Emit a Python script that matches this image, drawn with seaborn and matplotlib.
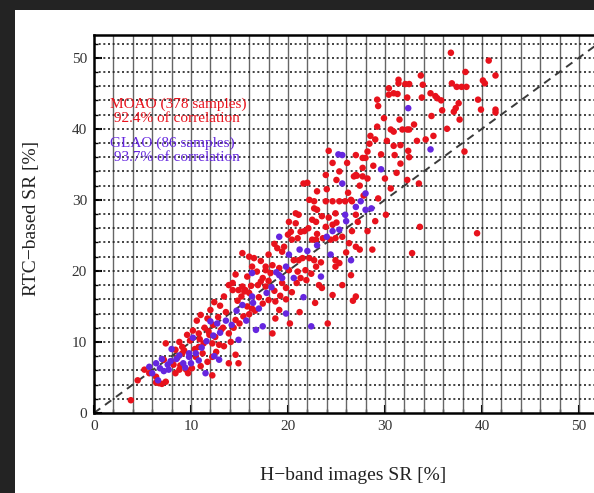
import matplotlib
matplotlib.use("Agg")
import matplotlib.pyplot as plt
from matplotlib.patches import Rectangle
from matplotlib.ticker import MultipleLocator
import numpy as np
import pandas as pd
import seaborn as sns

# MOAO samples: H-band SR vs RTC-based SR [%]
moao_x = [36.8, 40.7, 33.7, 38.3, 41.4, 31.4, 31.4, 32.1, 32.5, 33.9, 36.9, 37.4, 37.9, 38.4,
          40.1, 40.3, 30.4, 30.9, 31.3, 32.3, 33.8, 34.7, 35.2, 35.4, 35.8, 29.2, 29.3, 39.6,
          37.6, 37.3, 37.1, 39.9, 41.4, 41.4, 29.9, 31.5, 37.7, 30.6, 30.9, 31.8, 32.3, 32.5,
          28.5, 34.2, 28.4, 30.9, 31.6, 32.4, 38.2, 32.5, 27.7, 28.0, 27.7, 31.6, 26.8, 27.1,
          32.3, 33.5, 39.5, 32.8,
          27.0, 27.7, 22.0, 23.9, 22.2, 22.7, 23.9, 24.6, 25.3, 25.9, 26.6, 22.7, 23.0, 20.8,
          21.1, 24.9, 30.1, 20.1, 20.8, 22.5, 22.9, 23.9, 24.6, 27.0, 27.2, 20.3, 21.3, 20.4,
          22.5, 22.9, 23.6, 24.4, 24.9, 26.3, 27.0, 28.7, 27.4, 15.3, 16.0, 18.9, 19.4, 20.6,
          21.1, 21.5, 22.2, 22.7, 24.9, 25.3, 24.9, 16.3, 16.8, 17.7, 18.2, 20.1, 21.0, 21.8,
          14.3, 15.3, 15.6, 17.2, 17.7, 19.4, 19.8, 23.2, 23.5, 27.0,
          17.7, 18.4, 19.1, 14.9, 15.5, 16.0, 13.9, 14.3, 15.8, 16.3, 17.4, 18.0, 18.7, 19.1,
          18.7, 14.6, 11.0, 11.7, 13.1, 10.8, 11.9, 12.5, 13.9, 12.2, 12.9, 8.8, 9.1, 10.5,
          11.2, 12.2, 14.6, 7.2, 8.2, 8.8, 9.5, 10.1, 5.2, 5.7, 13.9, 14.9, 12.2,
          3.8, 4.5, 6.4, 6.7, 7.4, 7.4, 8.4, 9.1, 8.4, 10.8, 11.3, 6.4, 7.0,
          21.6, 24.2, 29.2, 30.4, 26.7, 33.6, 24.1,
          8.0, 8.6, 9.3, 9.9, 10.4, 10.9, 11.4, 11.8, 12.3, 12.8, 13.3, 13.6, 10.2, 9.6,
          8.9, 9.7, 11.0, 11.7, 12.6, 13.4, 14.1, 14.4, 15.0, 15.4, 16.0, 16.6, 17.0, 13.0,
          12.0, 10.6,
          14.8, 15.2, 16.2, 16.9, 17.4, 18.0, 18.6, 19.2, 19.8, 20.4, 20.9, 21.3, 21.9, 22.4,
          22.9, 23.4, 17.2, 18.0, 18.6, 19.6, 20.0, 21.0, 21.7, 22.1, 23.0, 23.5, 24.2, 25.0,
          25.6, 26.0, 26.6, 16.5, 15.8, 14.6, 13.4, 12.4,
          23.0, 24.0, 25.0, 26.2, 27.4, 28.2, 28.8, 29.6, 30.2, 29.0, 28.2, 27.0, 26.1, 25.3,
          24.6, 26.5, 27.8, 29.3, 30.6, 31.2, 30.0, 31.0, 33.0, 33.3, 34.8, 35.9, 36.4, 35.0,
          29.0, 28.2, 26.5, 25.6, 24.6, 22.8, 21.2, 20.2, 18.4]
moao_y = [50.7, 49.6, 47.5, 48.0, 47.5, 46.9, 46.4, 46.3, 46.3, 46.2, 46.4, 45.9, 45.9, 45.9,
          46.8, 46.4, 45.7, 45.0, 44.9, 44.4, 44.4, 45.0, 44.6, 44.3, 44.0, 44.1, 43.2, 44.1,
          43.6, 42.9, 42.4, 42.7, 42.7, 42.3, 41.5, 41.3, 41.3, 39.9, 39.6, 39.9, 39.9, 39.9,
          39.0, 38.5, 37.9, 37.6, 37.7, 36.9, 36.8, 36.0, 35.9, 35.9, 34.5, 35.1, 33.3, 33.4,
          32.8, 32.3, 25.3, 22.5,
          33.5, 33.3, 32.4, 33.5, 30.0, 29.8, 29.8, 29.8, 29.8, 29.8, 29.8, 28.8, 28.6, 28.1,
          27.9, 28.1, 27.9, 26.9, 26.7, 27.2, 26.9, 26.2, 26.5, 27.9, 26.9, 25.5, 25.5, 24.4,
          24.4, 24.4, 24.6, 24.4, 24.6, 23.9, 23.4, 23.0, 23.0, 22.5, 22.0, 23.2, 22.7, 21.5,
          21.5, 21.8, 21.8, 21.5, 21.5, 21.1, 20.6, 20.6, 19.9, 20.1, 19.7, 20.1, 19.9, 20.1,
          18.3, 17.8, 17.3, 18.5, 17.8, 18.3, 17.6, 18.0, 17.6, 16.4,
          20.6, 20.8, 20.4, 17.3, 17.1, 16.9, 18.0, 17.3, 15.0, 14.7, 15.4, 15.9, 15.7, 14.5,
          13.3, 13.1, 13.8, 13.3, 11.7, 11.2, 11.0, 10.7, 11.2, 9.8, 9.6, 10.0, 9.3, 7.9,
          8.4, 7.9, 8.2, 7.5, 6.8, 6.1, 6.1, 6.3, 6.1, 5.6, 7.0, 7.0, 5.3,
          1.8, 4.6, 5.1, 4.2, 4.4, 9.8, 8.9, 8.4, 5.6, 9.3, 9.8, 4.3, 4.1,
          32.3, 36.9, 40.3, 44.8, 15.8, 26.2, 12.6,
          7.2, 7.8, 8.8, 10.2, 9.0, 10.4, 12.0, 11.5, 12.4, 13.5, 12.0, 14.2, 11.6, 11.0,
          6.7, 5.6, 6.6, 7.2, 8.6, 9.4, 10.0, 12.0, 12.6, 13.6, 13.9, 14.4, 16.3, 15.1,
          14.5, 13.0,
          15.8, 16.4, 17.9, 18.0, 19.0, 18.6, 17.2, 16.5, 16.0, 17.0, 18.3, 19.0, 18.7, 19.6,
          20.6, 21.2, 21.4, 22.3, 23.8, 23.4, 25.1, 24.6, 25.6, 26.0, 25.2, 27.7, 27.5, 26.8,
          24.8, 22.6, 25.6, 21.8, 19.2, 19.5, 16.4, 15.6,
          31.2, 31.5, 32.8, 31.0, 32.0, 33.0, 34.8, 36.4, 38.3, 38.5, 36.8, 36.3, 35.2, 34.0,
          35.2, 30.0, 30.6, 30.2, 31.6, 33.8, 33.0, 36.3, 40.6, 38.3, 41.8, 42.6, 40.0, 39.0,
          27.0, 25.6, 19.4, 18.0, 16.6, 15.5, 14.2, 12.6, 11.2]

# GLAO samples
glao_x = [32.4, 34.7, 29.6, 25.6, 28.0, 27.5, 28.0, 25.9, 25.3, 19.1, 20.1, 24.4, 26.5, 19.1,
          23.4, 16.3, 16.3, 19.4, 15.3, 19.8, 17.4, 12.0, 12.7, 14.9, 16.7, 9.8, 12.9, 7.6,
          11.5, 6.0, 5.7, 6.4, 7.7, 10.5, 9.8, 25.6,
          6.8, 7.2, 7.9, 8.5, 8.8, 9.2, 9.4, 10.0, 10.8, 11.1, 11.6, 12.3, 13.0, 13.6,
          14.2, 14.7, 15.7, 16.4, 17.0, 17.8, 18.3, 18.8, 19.8, 20.6, 21.2, 22.0, 23.0, 24.0,
          21.6, 22.4, 25.2, 26.0, 27.0, 28.6, 24.6, 8.0, 6.6, 7.0, 10.2, 12.4]
glao_y = [42.9, 37.1, 34.3, 32.3, 30.9, 29.8, 28.6, 27.9, 25.8, 24.8, 22.3, 22.3, 21.5, 19.4,
          19.2, 16.4, 19.7, 19.0, 15.2, 14.0, 12.2, 12.9, 12.6, 10.3, 11.7, 8.4, 7.5, 6.8,
          5.6, 5.6, 6.5, 7.0, 6.1, 8.4, 7.9, 36.3,
          6.3, 5.9, 7.3, 7.6, 8.1, 7.0, 6.4, 7.0, 7.4, 9.2, 10.1, 10.9, 11.3, 13.0,
          12.4, 14.4, 13.0, 15.5, 14.7, 16.9, 17.7, 19.8, 20.6, 19.0, 23.0, 22.8, 23.6, 24.8,
          16.3, 12.2, 36.4, 27.0, 29.0, 28.8, 25.6, 9.0, 4.6, 7.6, 10.6, 8.0]

moao_label = ["MOAO (378 samples)", " 92.4% of correlation"]
glao_label = ["GLAO (86 samples)", " 93.7% of correlation"]

RED = "#e8121c"
BLUE = "#6526df"

df = pd.DataFrame({
    "hsr": moao_x + glao_x,
    "rtc": moao_y + glao_y,
    "mode": ["MOAO"] * len(moao_x) + ["GLAO"] * len(glao_x),
})

sns.set_theme(style="white")
plt.rcParams["font.family"] = ["Liberation Serif", "DejaVu Serif"]

W, H = 594, 493
fig = plt.figure(figsize=(W / 100, H / 100), dpi=100, facecolor="#232323")
# white page area inside the dark frame
fig.patches.append(Rectangle((15 / W, 0), 1, (H - 10) / H, transform=fig.transFigure,
                             facecolor="white", edgecolor="none", zorder=-10))

ax = fig.add_axes([94 / W, (H - 413) / H, 514 / W, 378 / H])
ax.set_zorder(1)
ax.set_xlim(0, 53)
ax.set_ylim(0, 53.2)

# grid: solid verticals, dotted horizontals every 2 %
for v in np.arange(2, 53, 2):
    ax.axvline(v, color="#666666", lw=1.0, zorder=1)
for h in np.arange(2, 53, 2):
    ax.axhline(h, color="#222222", lw=1.2, ls=(0, (1.2, 1.6)), zorder=1)

ax.plot([0, 53], [0, 53], color="#3a3a3a", lw=1.4, ls=(0, (4, 3)), zorder=2)

sns.scatterplot(data=df, x="hsr", y="rtc", hue="mode",
                palette={"MOAO": RED, "GLAO": BLUE}, s=22, linewidth=0,
                marker="o", legend=False, ax=ax, zorder=3)

ax.text(1.6, 43.5, moao_label[0], color=RED, fontsize=11, va="center", zorder=4)
ax.text(1.6, 41.5, moao_label[1], color=RED, fontsize=11, va="center", zorder=4)
ax.text(1.6, 38.0, glao_label[0], color=BLUE, fontsize=11, va="center", zorder=4)
ax.text(1.6, 36.0, glao_label[1], color=BLUE, fontsize=11, va="center", zorder=4)

ax.xaxis.set_major_locator(MultipleLocator(10))
ax.yaxis.set_major_locator(MultipleLocator(10))
ax.xaxis.set_minor_locator(MultipleLocator(2))
ax.yaxis.set_minor_locator(MultipleLocator(2))
ax.tick_params(which="major", direction="in", length=6, width=1.5, color="black",
               labelsize=11, labelcolor="#333333", pad=5)
ax.tick_params(which="minor", direction="in", length=3, width=1.0, color="black")
ax.tick_params(bottom=True, left=True, which="both")

for side in ["left", "bottom", "top", "right"]:
    ax.spines[side].set_color("black")
    ax.spines[side].set_linewidth(1.8)

ax.set_xlabel("H\u2212band images SR [%]", fontsize=14, color="#222222")
ax.set_ylabel("RTC\u2212based SR [%]", fontsize=14, color="#222222")
ax.xaxis.set_label_coords(0.504, -0.143)
ax.yaxis.set_label_coords(-0.105, 0.516)

fig.savefig("out.png", dpi=100, facecolor=fig.get_facecolor())
